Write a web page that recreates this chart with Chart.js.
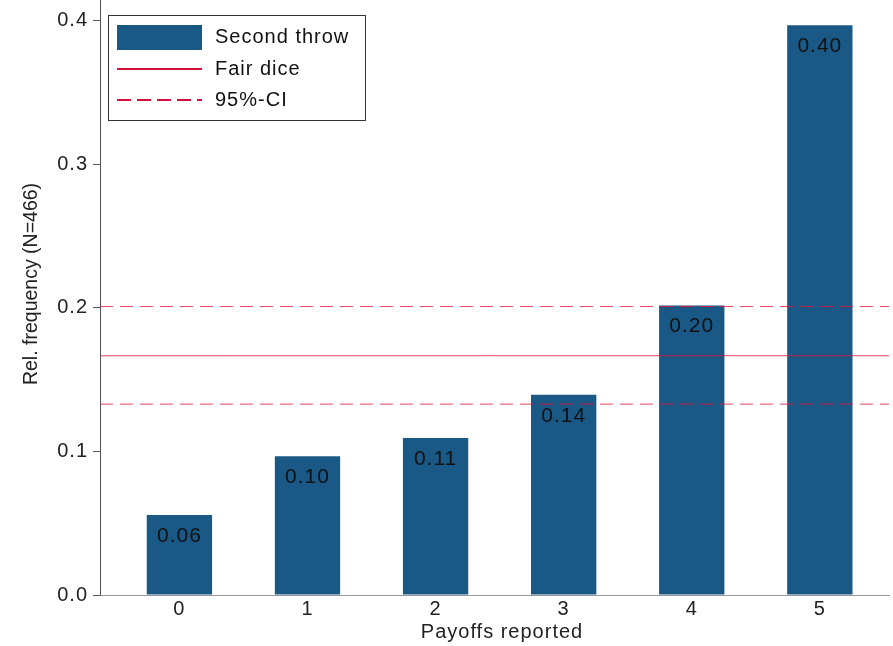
<!DOCTYPE html>
<html>
<head>
<meta charset="utf-8">
<script src="https://cdn.jsdelivr.net/npm/chart.js@4/dist/chart.umd.min.js"></script>
<style>
  html, body { margin: 0; padding: 0; background: #fff; }
  #wrap { width: 893px; height: 646px; }
</style>
</head>
<body>
<div id="wrap"><canvas id="c" width="893" height="646"></canvas></div>
<script>
// Reported payoffs (second throw) and their relative frequencies, N = 466
const payoffs = [0, 1, 2, 3, 4, 5];
const relFreq = [0.0558, 0.0966, 0.1094, 0.1395, 0.2017, 0.3970];

// Reference levels: fair die and its 95% confidence band
const fairDice = 0.1667;
const ciLower = 0.133;
const ciUpper = 0.201;

const yTicks = [0, 0.1, 0.2, 0.3, 0.4];

const FONT = "'Liberation Sans', Arial, sans-serif";
const BAR_COLOR = '#1a5886';
const RED_LINE = 'rgba(232, 20, 60, 0.8)';
const RED_KEY = '#d2103e';
const DASH = [13, 7];

const X_MIN = -0.62, X_MAX = 5.54;

// Slightly widened lettering for all horizontal text
const spacing = {
  id: 'spacing',
  beforeDraw(chart) { chart.ctx.letterSpacing = '1px'; }
};

// Value labels printed just inside the top of each bar
const barLabels = {
  id: 'barLabels',
  afterDatasetsDraw(chart) {
    const ctx = chart.ctx;
    const meta = chart.getDatasetMeta(0);
    ctx.save();
    ctx.letterSpacing = '1px';
    ctx.font = '21px ' + FONT;
    ctx.fillStyle = '#111';
    ctx.textAlign = 'center';
    ctx.textBaseline = 'middle';
    meta.data.forEach((bar, i) => {
      ctx.fillText(relFreq[i].toFixed(2), bar.x, bar.y + 21);
    });
    ctx.restore();
  }
};

// Axis titles
const axisTitles = {
  id: 'axisTitles',
  afterDraw(chart) {
    const ctx = chart.ctx;
    ctx.save();
    ctx.fillStyle = '#222';
    ctx.textAlign = 'center';
    ctx.textBaseline = 'middle';
    ctx.letterSpacing = '1px';
    ctx.font = '20px ' + FONT;
    ctx.fillText('Payoffs reported', 502, 632);
    ctx.letterSpacing = '0px';
    ctx.translate(32, 284);
    ctx.rotate(-Math.PI / 2);
    ctx.font = '19.5px ' + FONT;
    ctx.fillText('Rel. frequency (N=466)', 0, 0);
    ctx.restore();
  }
};

// Boxed legend in the upper-left corner of the plot
const boxLegend = {
  id: 'boxLegend',
  afterDraw(chart) {
    const ctx = chart.ctx;
    const a = chart.chartArea;
    const x0 = a.left + 8, y0 = a.top + 15, w = 257, h = 105;
    ctx.save();
    ctx.letterSpacing = '1px';
    ctx.fillStyle = '#fff';
    ctx.fillRect(x0, y0, w, h);
    ctx.strokeStyle = '#333';
    ctx.lineWidth = 1;
    ctx.strokeRect(x0 + 0.5, y0 + 0.5, w, h);
    const sx = x0 + 9, sw = 85, tx = x0 + 107;
    const rows = [22, 54, 85];
    ctx.font = '20px ' + FONT;
    ctx.textBaseline = 'middle';
    chart.data.datasets.slice(0, 3).forEach((ds, i) => {
      const cy = y0 + rows[i];
      if (ds.type === 'bar') {
        ctx.fillStyle = ds.backgroundColor;
        ctx.fillRect(sx, cy - 12, sw, 25);
      } else {
        ctx.strokeStyle = RED_KEY;
        ctx.lineWidth = 2;
        ctx.setLineDash(ds.borderDash.length ? [14, 6] : []);
        ctx.beginPath();
        ctx.moveTo(sx, cy);
        ctx.lineTo(sx + sw, cy);
        ctx.stroke();
        ctx.setLineDash([]);
      }
      ctx.fillStyle = '#111';
      ctx.fillText(ds.label, tx, cy);
    });
    ctx.restore();
  }
};

function refLine(label, y, dash) {
  return {
    type: 'line',
    label: label,
    data: [{ x: X_MIN, y: y }, { x: X_MAX, y: y }],
    borderColor: RED_LINE,
    backgroundColor: RED_LINE,
    borderWidth: 1,
    borderDash: dash,
    pointRadius: 0,
    fill: false,
    order: 1
  };
}

new Chart(document.getElementById('c'), {
  type: 'bar',
  data: {
    datasets: [
      {
        type: 'bar',
        label: 'Second throw',
        data: payoffs.map((p, i) => ({ x: p, y: relFreq[i] })),
        backgroundColor: BAR_COLOR,
        borderWidth: 0,
        barPercentage: 0.51,
        categoryPercentage: 1,
        order: 2
      },
      refLine('Fair dice', fairDice, []),
      refLine('95%-CI', ciLower, DASH),
      refLine('95%-CI (upper)', ciUpper, DASH)
    ]
  },
  options: {
    responsive: false,
    animation: false,
    layout: { padding: { top: 0, right: 4, left: 0, bottom: 0 } },
    plugins: {
      legend: { display: false },
      tooltip: { enabled: false },
      colors: { enabled: false }
    },
    scales: {
      x: {
        type: 'linear',
        min: X_MIN,
        max: X_MAX,
        offset: false,
        grid: { display: false },
        border: { display: true, color: '#9a9a9a', width: 1, dash: [2, 1] },
        ticks: {
          stepSize: 1,
          includeBounds: false,
          padding: -6,
          color: '#222',
          font: { family: FONT, size: 20 },
          callback: v => String(v)
        },
        afterFit(scale) { scale.height = 51; scale.paddingLeft = 0; scale.paddingRight = 0; }
      },
      y: {
        min: 0,
        max: 0.4146,
        grid: { drawOnChartArea: false, drawTicks: true, tickLength: 7, color: '#555' },
        border: { display: true, color: '#555', width: 1, dash: [1, 1] },
        afterBuildTicks(scale) { scale.ticks = yTicks.map(v => ({ value: v })); },
        ticks: {
          padding: 5,
          color: '#222',
          font: { family: FONT, size: 20 },
          callback: v => Number(v).toFixed(1)
        },
        afterFit(scale) { scale.width = 100; scale.paddingTop = 0; scale.paddingBottom = 0; }
      }
    }
  },
  plugins: [spacing, barLabels, axisTitles, boxLegend]
});
</script>
</body>
</html>
